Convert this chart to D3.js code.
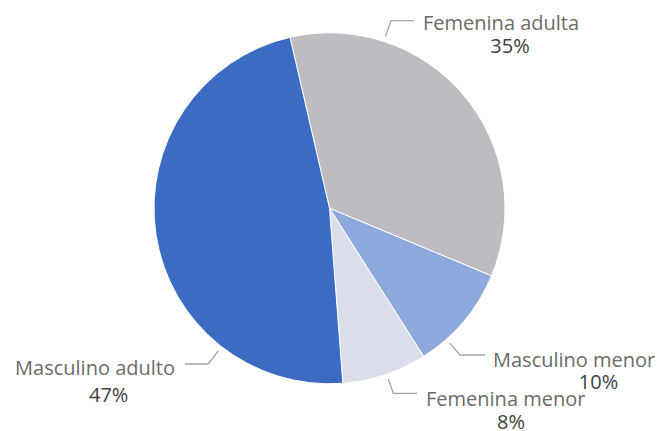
<!DOCTYPE html>
<html>
<head>
<meta charset="utf-8">
<script src="https://cdn.jsdelivr.net/npm/d3@7"></script>
<style>
  html, body { margin: 0; padding: 0; background: #fff; }
  svg { display: block; font-family: "Open Sans", sans-serif; }
</style>
</head>
<body>
<svg id="chart" width="657" height="431"></svg>
<script>
// slice order, clockwise from the top-left boundary
const categories = ["Femenina adulta", "Masculino menor", "Femenina menor", "Masculino adulto"];
const shares = [34.9, 9.7, 7.8, 47.6];
const percentLabels = ["35%", "10%", "8%", "47%"];
const sliceColors = ["#bebcc0", "#8eaadc", "#d9deea", "#3c6bc3"];

const width = 657, height = 431;
const cx = 329.5, cy = 208.3, radius = 175.5;
const startDeg = -13;

// label placement (degrees where the leader line leaves the pie, elbow, end, text)
const labelLayout = [
  { leaderDeg: 18, elbow: [391, 20.7], end: [414, 20.7], nameX: 423, nameY: 30, pctX: 510, pctY: 53, anchor: "start" },
  { leaderDeg: 138.3, elbow: [460, 355], end: [485, 355], nameX: 493, nameY: 366.5, pctX: 598.5, pctY: 389, anchor: "start" },
  { leaderDeg: 161, elbow: [393.3, 393.3], end: [417, 393.3], nameX: 426, nameY: 405.5, pctX: 511, pctY: 429, anchor: "start" },
  { leaderDeg: 218, elbow: [208.3, 364], end: [185, 364], nameX: 175, nameY: 375, pctX: 108.7, pctY: 401.5, anchor: "end" }
];

const data = categories.map((c, i) => ({ name: c, value: shares[i], pct: percentLabels[i], color: sliceColors[i] }));

const svg = d3.select("#chart");
const g = svg.append("g").attr("transform", `translate(${cx},${cy})`);

const pie = d3.pie()
  .value((d) => d.value)
  .sort(null)
  .startAngle((startDeg * Math.PI) / 180)
  .endAngle(((startDeg + 360) * Math.PI) / 180);

const arc = d3.arc().innerRadius(0).outerRadius(radius);

g.selectAll("path")
  .data(pie(data))
  .join("path")
  .attr("d", arc)
  .attr("fill", (d) => d.data.color)
  .attr("stroke", "#fff")
  .attr("stroke-width", 1);

// leader lines and labels
const leaderR = radius + 5;
const toRad = (deg) => (deg * Math.PI) / 180;
labelLayout.forEach((l, i) => {
  const a = toRad(l.leaderDeg);
  const sx = cx + leaderR * Math.sin(a);
  const sy = cy - leaderR * Math.cos(a);
  svg.append("polyline")
    .attr("points", [[sx, sy], l.elbow, l.end].map((p) => p.join(",")).join(" "))
    .attr("fill", "none")
    .attr("stroke", "#a6a6a6")
    .attr("stroke-width", 1.3);

  svg.append("text")
    .attr("x", l.nameX)
    .attr("y", l.nameY)
    .attr("text-anchor", l.anchor)
    .attr("font-size", 20)
    .attr("fill", "#6b6b6b")
    .text(data[i].name);

  svg.append("text")
    .attr("x", l.pctX)
    .attr("y", l.pctY)
    .attr("text-anchor", "middle")
    .attr("font-size", 20)
    .attr("fill", "#404040")
    .text(data[i].pct);
});
</script>
</body>
</html>
